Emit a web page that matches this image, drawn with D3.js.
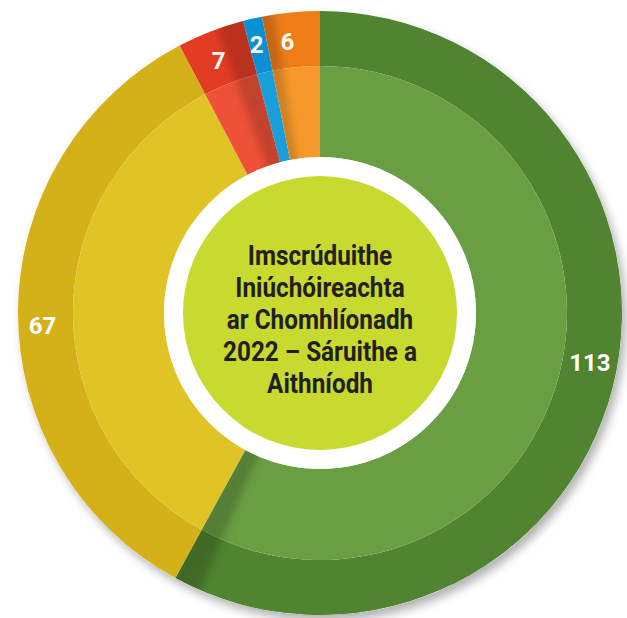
<!DOCTYPE html>
<html>
<head>
<meta charset="utf-8">
<script src="https://cdn.jsdelivr.net/npm/d3@7"></script>
<style>
  body { margin: 0; background: #fff; }
  svg { display: block; }
</style>
</head>
<body>
<div id="chart"></div>
<script>
// chart data
var categories = ["Glas", "Buí", "Dearg", "Gorm", "Oráiste"];
var values = [113, 67, 7, 2, 6];
var outerColors = ["#508430", "#d5b119", "#e33c25", "#0b8fd5", "#ef7d17"];
var innerColors = ["#6a9e43", "#e0c325", "#ee5137", "#199fd9", "#f6992a"];
var centerLines = ["Imscrúduithe", "Iniúchóireachta", "ar Chomhlíonadh", "2022 – Sáruithe a", "Aithníodh"];
// small hand nudges for the value labels (px)
var labelNudge = [[4, -18], [-3, 15], [-2, 4], [-2, 0], [-6, 2]];

var width = 627, height = 618;
var cx = 320, cy = 313;
var rOuter = 302, rMid = 247, rHole = 156, rCenter = 137;

var svg = d3.select("#chart").append("svg")
    .attr("width", width)
    .attr("height", height);

var defs = svg.append("defs");

var drop = defs.append("filter").attr("id", "drop")
    .attr("x", "-10%").attr("y", "-10%").attr("width", "120%").attr("height", "120%");
drop.append("feDropShadow")
    .attr("dx", 4).attr("dy", 6).attr("stdDeviation", 5)
    .attr("flood-color", "#000").attr("flood-opacity", 0.3);

var blur = defs.append("filter").attr("id", "blur")
    .attr("x", "-50%").attr("y", "-50%").attr("width", "200%").attr("height", "200%");
blur.append("feGaussianBlur").attr("stdDeviation", 4);

var pie = d3.pie().sort(null).value(function(d) { return d; });
var arcs = pie(values);

var outerArc = d3.arc().innerRadius(rMid).outerRadius(rOuter);
var innerArc = d3.arc().innerRadius(rHole).outerRadius(rMid);
var fullArc = d3.arc().innerRadius(rHole).outerRadius(rOuter);

var g = svg.append("g").attr("transform", "translate(" + cx + "," + cy + ")");

// shadow under whole ring
g.append("path")
    .attr("d", d3.arc().innerRadius(rHole).outerRadius(rOuter).startAngle(0).endAngle(2 * Math.PI)())
    .attr("fill", "#fff")
    .attr("filter", "url(#drop)");

arcs.forEach(function(a, i) {
    defs.append("clipPath").attr("id", "clip" + i)
        .append("path")
        .attr("transform", "translate(" + cx + "," + cy + ")")
        .attr("d", fullArc(a));
});

g.selectAll("path.outer").data(arcs).enter().append("path")
    .attr("class", "outer")
    .attr("d", outerArc)
    .attr("fill", function(d, i) { return outerColors[i]; });

g.selectAll("path.inner").data(arcs).enter().append("path")
    .attr("class", "inner")
    .attr("d", innerArc)
    .attr("fill", function(d, i) { return innerColors[i]; });

// soft shading next to some boundaries
var shades = [
    { seg: 0, side: "end", op: 0.2 },
    { seg: 2, side: "end", op: 0.18 },
    { seg: 4, side: "start", op: 0.18 }
];
var shadeLayer = svg.append("g");
shades.forEach(function(s) {
    var a = arcs[s.seg];
    var ang = s.side == "end" ? a.endAngle : a.startAngle;
    var dir = s.side == "end" ? -1 : 1;
    var a0 = Math.min(ang, ang + dir * 0.07);
    var a1 = Math.max(ang, ang + dir * 0.07);
    shadeLayer.append("g")
        .attr("clip-path", "url(#clip" + s.seg + ")")
        .append("path")
        .attr("transform", "translate(" + cx + "," + cy + ")")
        .attr("d", d3.arc().innerRadius(rHole - 10).outerRadius(rOuter + 10)
            .startAngle(a0 - 0.02).endAngle(a1 - (dir > 0 ? 0.03 : -0.02))())
        .attr("fill", "#000")
        .attr("opacity", s.op)
        .attr("filter", "url(#blur)");
});

// labels
var labelArc = d3.arc().innerRadius(rMid).outerRadius(rOuter);
g.selectAll("text.lbl").data(arcs).enter().append("text")
    .attr("class", "lbl")
    .attr("transform", function(d, i) {
        var c = labelArc.centroid(d);
        return "translate(" + (c[0] + labelNudge[i][0]) + "," + (c[1] + labelNudge[i][1]) + ")";
    })
    .attr("text-anchor", "middle")
    .attr("dominant-baseline", "central")
    .attr("fill", "#fff")
    .attr("font-family", "Roboto, 'Liberation Sans', sans-serif")
    .attr("font-weight", "bold")
    .attr("font-size", 24)
    .text(function(d) { return d.data; });

// centre
g.append("circle").attr("r", rHole).attr("fill", "#fff");
g.append("circle").attr("r", rCenter).attr("fill", "#c8d92f");

var lineH = 32;
var t = g.append("text")
    .attr("transform", "scale(0.9,1)")
    .attr("text-anchor", "middle")
    .attr("fill", "#231f20")
    .attr("font-family", "Roboto, 'Liberation Sans', sans-serif")
    .attr("font-weight", "bold")
    .attr("font-size", 27);
centerLines.forEach(function(line, i) {
    t.append("tspan")
        .attr("x", 0)
        .attr("y", (i - (centerLines.length - 1) / 2) * lineH + 16)
        .text(line);
});
</script>
</body>
</html>
